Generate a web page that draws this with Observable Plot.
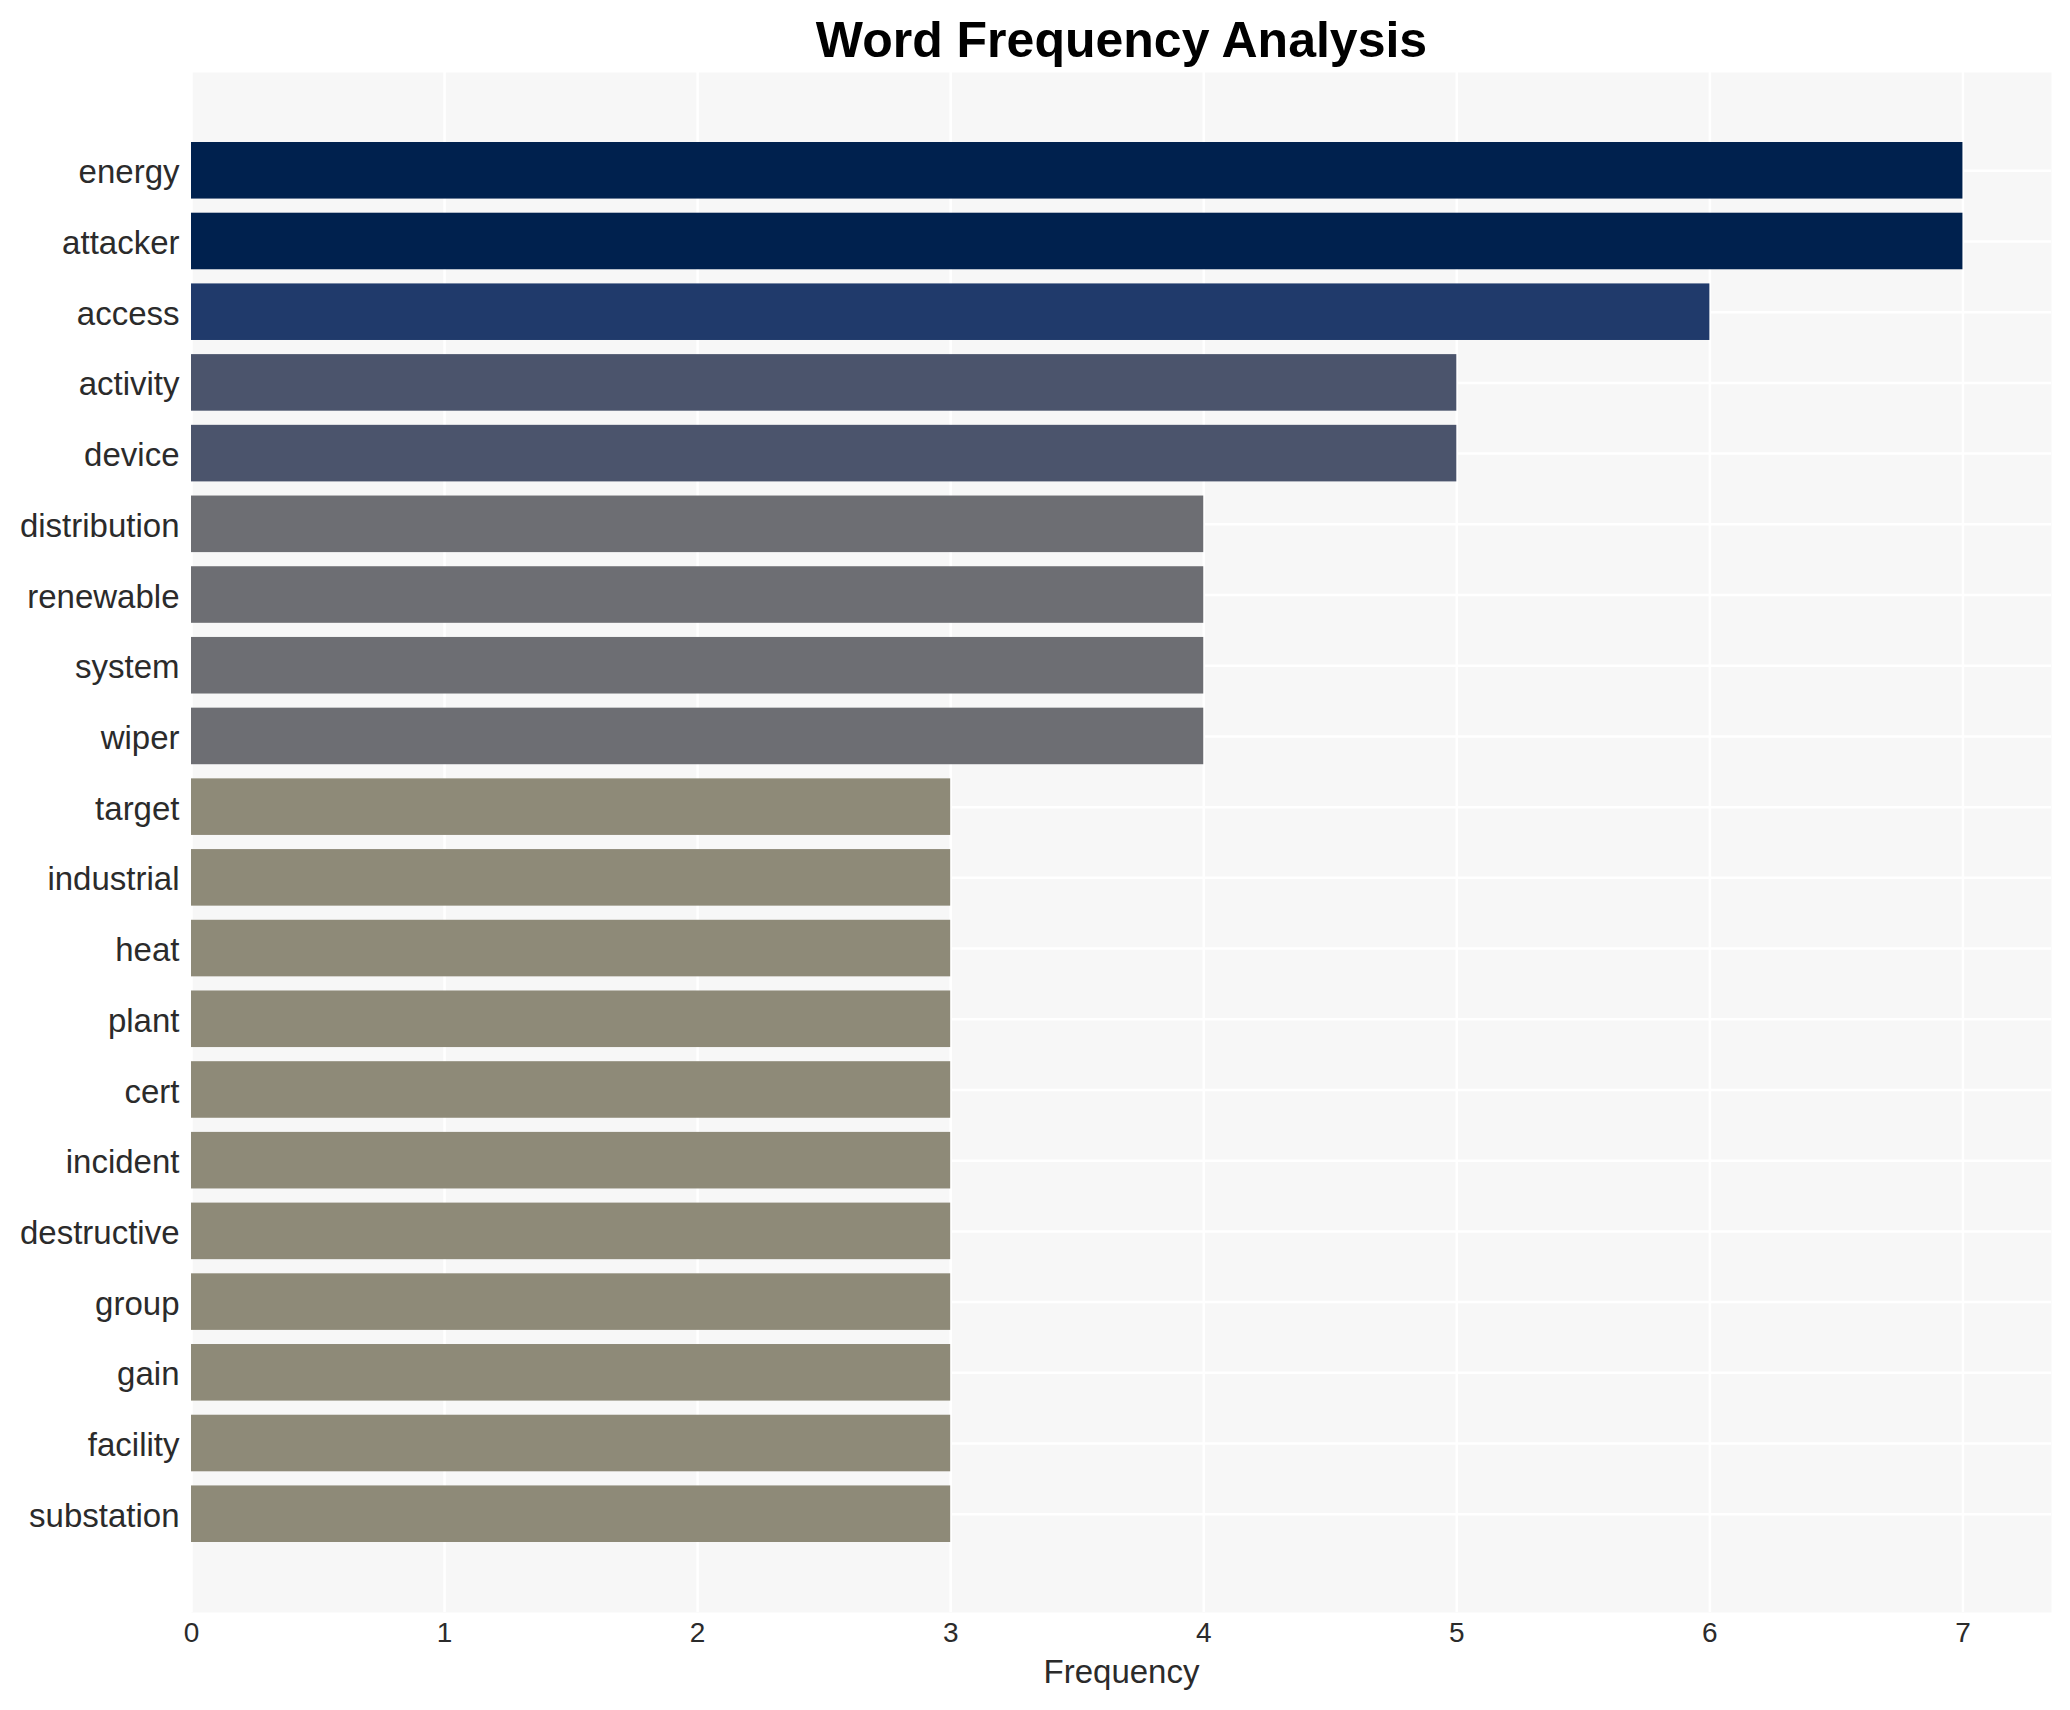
<!DOCTYPE html>
<html>
<head>
<meta charset="utf-8">
<script src="https://cdn.jsdelivr.net/npm/d3@7"></script>
<script src="https://cdn.jsdelivr.net/npm/@observablehq/plot@0.6"></script>
<style>
  html, body { margin: 0; padding: 0; background: #ffffff; }
  #chart svg { display: block; }
</style>
</head>
<body>
<div id="chart"></div>
<script>
const title = "Word Frequency Analysis";
const xLabel = "Frequency";
const words = ["energy", "attacker", "access", "activity", "device", "distribution", "renewable", "system", "wiper", "target", "industrial", "heat", "plant", "cert", "incident", "destructive", "group", "gain", "facility", "substation"];
const counts = [7, 7, 6, 5, 5, 4, 4, 4, 4, 3, 3, 3, 3, 3, 3, 3, 3, 3, 3, 3];
const xTicks = [0, 1, 2, 3, 4, 5, 6, 7];
const colorValues = [3, 4, 5, 6, 7];
const colorRange = ["#8e8a78", "#6d6e73", "#4b546c", "#203a6b", "#00214e"];

const data = words.map((w, i) => ({word: w, count: counts[i]}));

const font = "'Liberation Sans', Arial, Helvetica, sans-serif";

const chart = Plot.plot({
  width: 2070,
  height: 1710,
  marginTop: 72,
  marginBottom: 98,
  marginLeft: 191,
  marginRight: 19,
  style: {fontFamily: font, background: "#ffffff"},
  x: {domain: [0, 7.35], ticks: xTicks},
  y: {domain: words, paddingInner: 0.2, paddingOuter: 0.99, round: false},
  color: {type: "ordinal", domain: colorValues, range: colorRange},
  marks: [
    Plot.frame({fill: "#f7f7f7", stroke: null}),
    Plot.gridX({ticks: xTicks, stroke: "#ffffff", strokeOpacity: 1, strokeWidth: 2.5}),
    Plot.gridY({stroke: "#ffffff", strokeOpacity: 1, strokeWidth: 2.5}),
    Plot.barX(data, {y: "word", x: "count", fill: d => d.count}),
    Plot.axisY({tickSize: 0, tickPadding: 12, dy: 2, fontSize: 33, color: "#2b2b2b", label: null}),
    Plot.axisX({ticks: xTicks, tickSize: 0, tickPadding: 10, fontSize: 28, color: "#2b2b2b", label: null}),
    Plot.text([xLabel], {frameAnchor: "bottom", lineAnchor: "bottom", dy: 70, fontSize: 33, fill: "#2b2b2b"}),
    Plot.text([title], {frameAnchor: "top", lineAnchor: "bottom", dy: -16, fontSize: 50, fontWeight: "bold", fill: "#000000"})
  ]
});
document.getElementById("chart").appendChild(chart);
</script>
</body>
</html>
